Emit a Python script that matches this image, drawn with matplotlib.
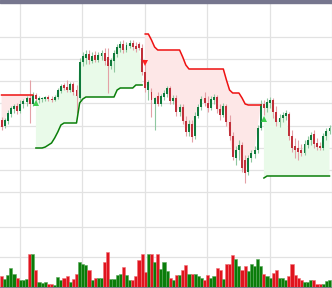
import numpy as np
import matplotlib
matplotlib.use("Agg")
import matplotlib.pyplot as plt
from matplotlib.patches import Rectangle

nan = np.nan

# candles (price units)
opens = [180, 174, 179, 186, 191, 194, 189, 196, 198, 202, 196, 205, 200, 201, 201, 203, 201, 200, 203, 209,
         215, 213, 210, 216, 210, 202, 238, 242, 246, 239, 245, 240, 244, 247, 243, 234, 239, 246, 252, 256,
         250, 254, 257, 254, 256, 252, 228, 210, 208, 196, 204, 196, 203, 206, 212, 199, 202, 188, 193, 179,
         168, 176, 164, 184, 193, 202, 197, 192, 200, 203, 191, 185, 194, 178, 164, 142, 150, 155, 140, 128,
         142, 146, 150, 172, 196, 192, 197, 200, 188, 178, 182, 184, 186, 164, 154, 152, 150, 147, 155, 160,
         166, 157, 154, 152, 164, 169]
highs = [183, 182, 190, 194, 196, 197, 200, 201, 204, 220, 208, 207, 204, 203, 204, 205, 204, 205, 212, 216,
         217, 220, 218, 218, 215, 242, 248, 250, 250, 248, 249, 248, 250, 252, 252, 242, 250, 256, 259, 260,
         258, 260, 260, 258, 258, 256, 236, 220, 212, 203, 208, 206, 210, 214, 214, 205, 205, 196, 196, 184,
         180, 180, 188, 196, 204, 208, 204, 204, 206, 205, 196, 197, 196, 185, 168, 154, 160, 158, 145, 145,
         150, 154, 175, 200, 200, 202, 203, 202, 194, 186, 188, 190, 188, 170, 162, 160, 156, 160, 164, 168,
         170, 162, 158, 167, 172, 175]
lows = [170, 172, 176, 183, 187, 186, 187, 192, 194, 177, 194, 196, 197, 198, 199, 199, 198, 199, 201, 207,
        210, 208, 208, 205, 187, 200, 234, 236, 236, 237, 238, 238, 240, 235, 207, 231, 228, 243, 248, 247,
        248, 252, 250, 248, 250, 225, 208, 200, 183, 170, 194, 194, 200, 203, 196, 196, 184, 184, 176, 164,
        164, 158, 161, 182, 190, 194, 188, 190, 196, 187, 180, 183, 174, 160, 140, 135, 140, 128, 117, 125,
        138, 142, 147, 170, 185, 188, 192, 182, 174, 173, 178, 180, 160, 148, 142, 140, 144, 145, 152, 155,
        152, 150, 150, 150, 160, 166]
closes = [173, 180, 187, 192, 194, 189, 196, 199, 202, 196, 205, 201, 202, 202, 203, 201, 200, 203, 210, 214,
          212, 210, 216, 208, 204, 238, 244, 246, 240, 244, 240, 245, 247, 239, 234, 240, 247, 253, 256, 250,
          255, 257, 253, 251, 252, 228, 212, 218, 200, 202, 196, 204, 207, 212, 199, 202, 188, 193, 179, 168,
          176, 163, 184, 193, 201, 197, 192, 201, 203, 191, 185, 194, 178, 164, 143, 150, 155, 132, 127, 142,
          147, 150, 172, 196, 192, 198, 200, 188, 178, 182, 185, 187, 164, 152, 150, 148, 147, 156, 160, 165,
          156, 153, 152, 164, 169, 172]
volumes = [360, 280, 390, 650, 450, 310, 250, 250, 280, 1090, 1090, 560, 180, 130, 180, 110, 110, 70, 330, 250,
           310, 380, 170, 270, 420, 830, 760, 720, 560, 250, 310, 310, 310, 830, 1160, 280, 280, 390, 450, 670,
           390, 250, 250, 360, 890, 1110, 500, 1090, 1100, 830, 1090, 590, 830, 520, 310, 250, 390, 390, 560, 720,
           450, 450, 420, 380, 310, 250, 410, 300, 360, 630, 580, 280, 780, 760, 1060, 950, 690, 580, 690, 520,
           780, 690, 950, 690, 450, 360, 310, 470, 560, 310, 310, 220, 360, 760, 390, 310, 250, 160, 160, 250,
           220, 110, 110, 90, 200, 250]

# supertrend bands
st_upper = [205, 205, 205, 205, 205, 205, 205, 205, 205, 205, 205, nan, nan, nan, nan, nan, nan, nan, nan, nan,
            nan, nan, nan, nan, nan, nan, nan, nan, nan, nan, nan, nan, nan, nan, nan, nan, nan, nan, nan, nan,
            nan, nan, nan, nan, nan, nan, 266, 266, 260, 253, 250, 250, 250, 250, 250, 250, 250, 250, 243, 235,
            231, 231, 231, 231, 231, 231, 231, 231, 231, 231, 231, 231, 220, 210, 207, 207, 207, 202, 196, 195,
            195, 195, 195, 195, nan, nan, nan, nan, nan, nan, nan, nan, nan, nan, nan, nan, nan, nan, nan, nan,
            nan, nan, nan, nan, nan, nan]
st_lower = [nan, nan, nan, nan, nan, nan, nan, nan, nan, nan, nan, 152, 152, 152, 153, 155, 157, 162, 168, 175,
            177, 177, 177, 177, 177, 197, 201, 203, 203, 203, 203, 203, 203, 203, 203, 203, 203, 210, 212, 212,
            212, 212, 212, 215, 215, 215, nan, nan, nan, nan, nan, nan, nan, nan, nan, nan, nan, nan, nan, nan,
            nan, nan, nan, nan, nan, nan, nan, nan, nan, nan, nan, nan, nan, nan, nan, nan, nan, nan, nan, nan,
            nan, nan, nan, nan, 122, 124, 124, 124, 124, 124, 124, 124, 124, 124, 124, 124, 124, 124, 124, 124,
            124, 124, 124, 124, 124, 124]

buy_idx = [11, 84]
buy_px = [197, 181]
sell_idx = [46]
sell_px = [237]

price_grid = [108, 130, 152, 174, 197, 219, 241, 263]
vol_grid = [1000, 2000]

up_col = "#0f7a3c"
dn_col = "#c0303a"

o = np.array(opens, float)
h = np.array(highs, float)
l = np.array(lows, float)
c = np.array(closes, float)
v = np.array(volumes, float)
up = np.array(st_upper, float)
lo = np.array(st_lower, float)
idx = np.arange(len(c))
rising = c >= o

fig = plt.figure(figsize=(3.32, 2.88), dpi=100)
ax = fig.add_axes([0, 0, 1, 1])
ax.set_xlim(-0.5, 105.74)
ax.set_ylim(12, 300)
ax.set_axisbelow(True)

ax.set_yticks(price_grid)
ax.set_xticks(np.arange(5.8, 106, 20))
ax.grid(True, color="#e2e2e2", lw=0.9)
ax.tick_params(length=0, labelbottom=False, labelleft=False)
for s in ax.spines.values():
    s.set_visible(False)

# fills between supertrend and close
ax.fill_between(idx, up, c, color="#fde7e7", lw=0, zorder=1)
ax.fill_between(idx, lo, c, color="#e9fae9", lw=0, zorder=1)
ax.plot(idx, up, color="#ee1111", lw=1.1, zorder=3)
ax.plot(idx, lo, color="#0a7f0a", lw=1.1, zorder=3)

# candles
wick_cols = np.where(rising, "#8fc7a0", "#e4a0a6")
ax.vlines(idx, l, h, colors=wick_cols, lw=0.8, zorder=2)
body_cols = np.where(rising, up_col, dn_col)
ax.bar(idx, np.maximum(np.abs(c - o), 1.0), bottom=np.minimum(o, c), width=0.62,
       color=body_cols, lw=0, zorder=2)

ax.plot(buy_idx, buy_px, "^", color="#3fcf4f", ms=5, mew=0, zorder=4)
ax.plot(sell_idx, sell_px, "v", color="#ff2020", ms=5, mew=0, zorder=4)

# volume panel
axv = ax.twinx()
axv.set_ylim(-33, 9567)
axv.set_yticks(vol_grid)
axv.yaxis.grid(True, color="#e2e2e2", lw=0.9)
axv.tick_params(length=0, labelright=False)
for s in axv.spines.values():
    s.set_visible(False)
vol_cols = np.where(rising, "#0a7d0a", "#e0141e")
vol_edge = np.where(rising, "#5aa85a", "#f07078")
axv.bar(idx, v, width=1.0, color=vol_cols, edgecolor=vol_edge, lw=0.4, zorder=2)
axv.axhline(-20, color="#7c7c94", lw=1.2, zorder=3)

fig.patches.append(Rectangle((0, 1 - 2.5 / 288), 1, 2.5 / 288, transform=fig.transFigure,
                             color="#76768e", zorder=5))

fig.savefig("out.png", dpi=100)
